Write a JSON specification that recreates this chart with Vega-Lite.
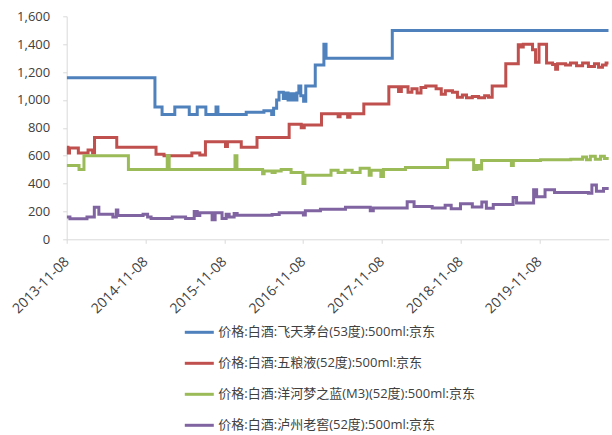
{
  "$schema": "https://vega.github.io/schema/vega-lite/v6.json",
  "width": 542,
  "height": 223,
  "autosize": {"type": "none"},
  "padding": {"left": 66.7, "top": 16.3, "right": 3.3, "bottom": 195.7},
  "background": "white",
  "config": {
    "view": {"stroke": null},
    "font": "Open Sans, Noto Sans CJK SC",
    "axis": {"labelFont": "Open Sans, Noto Sans CJK SC", "labelFontSize": 13, "labelColor": "#404040", "domainColor": "#d9d9d9", "tickColor": "#d9d9d9", "tickSize": 4, "grid": false, "title": null}
  },
  "data": {
    "values": [
      {"d": "2013-11-08", "s": "价格:白酒:飞天茅台(53度):500ml:京东", "v": 1160},
      {"d": "2014-12-22", "s": "价格:白酒:飞天茅台(53度):500ml:京东", "v": 950},
      {"d": "2015-01-24", "s": "价格:白酒:飞天茅台(53度):500ml:京东", "v": 895},
      {"d": "2015-03-24", "s": "价格:白酒:飞天茅台(53度):500ml:京东", "v": 950},
      {"d": "2015-05-30", "s": "价格:白酒:飞天茅台(53度):500ml:京东", "v": 895},
      {"d": "2015-07-06", "s": "价格:白酒:飞天茅台(53度):500ml:京东", "v": 950},
      {"d": "2015-08-15", "s": "价格:白酒:飞天茅台(53度):500ml:京东", "v": 895},
      {"d": "2015-10-01", "s": "价格:白酒:飞天茅台(53度):500ml:京东", "v": 950},
      {"d": "2015-10-10", "s": "价格:白酒:飞天茅台(53度):500ml:京东", "v": 895},
      {"d": "2016-02-18", "s": "价格:白酒:飞天茅台(53度):500ml:京东", "v": 912},
      {"d": "2016-05-10", "s": "价格:白酒:飞天茅台(53度):500ml:京东", "v": 922},
      {"d": "2016-06-15", "s": "价格:白酒:飞天茅台(53度):500ml:京东", "v": 895},
      {"d": "2016-06-24", "s": "价格:白酒:飞天茅台(53度):500ml:京东", "v": 940},
      {"d": "2016-07-08", "s": "价格:白酒:飞天茅台(53度):500ml:京东", "v": 1000},
      {"d": "2016-07-19", "s": "价格:白酒:飞天茅台(53度):500ml:京东", "v": 1055},
      {"d": "2016-08-08", "s": "价格:白酒:飞天茅台(53度):500ml:京东", "v": 1010},
      {"d": "2016-08-19", "s": "价格:白酒:飞天茅台(53度):500ml:京东", "v": 1050},
      {"d": "2016-08-30", "s": "价格:白酒:飞天茅台(53度):500ml:京东", "v": 1000},
      {"d": "2016-09-13", "s": "价格:白酒:飞天茅台(53度):500ml:京东", "v": 1045},
      {"d": "2016-09-27", "s": "价格:白酒:飞天茅台(53度):500ml:京东", "v": 1000},
      {"d": "2016-10-10", "s": "价格:白酒:飞天茅台(53度):500ml:京东", "v": 1050},
      {"d": "2016-10-19", "s": "价格:白酒:飞天茅台(53度):500ml:京东", "v": 1100},
      {"d": "2016-10-28", "s": "价格:白酒:飞天茅台(53度):500ml:京东", "v": 1030},
      {"d": "2016-11-10", "s": "价格:白酒:飞天茅台(53度):500ml:京东", "v": 990},
      {"d": "2016-11-20", "s": "价格:白酒:飞天茅台(53度):500ml:京东", "v": 1100},
      {"d": "2017-01-03", "s": "价格:白酒:飞天茅台(53度):500ml:京东", "v": 1250},
      {"d": "2017-02-12", "s": "价格:白酒:飞天茅台(53度):500ml:京东", "v": 1400},
      {"d": "2017-02-22", "s": "价格:白酒:飞天茅台(53度):500ml:京东", "v": 1299},
      {"d": "2017-12-26", "s": "价格:白酒:飞天茅台(53度):500ml:京东", "v": 1499},
      {"d": "2020-09-24", "s": "价格:白酒:飞天茅台(53度):500ml:京东", "v": 1499},

      {"d": "2013-11-08", "s": "价格:白酒:五粮液(52度):500ml:京东", "v": 660},
      {"d": "2013-11-14", "s": "价格:白酒:五粮液(52度):500ml:京东", "v": 620},
      {"d": "2013-11-21", "s": "价格:白酒:五粮液(52度):500ml:京东", "v": 655},
      {"d": "2014-01-01", "s": "价格:白酒:五粮液(52度):500ml:京东", "v": 620},
      {"d": "2014-02-15", "s": "价格:白酒:五粮液(52度):500ml:京东", "v": 640},
      {"d": "2014-03-08", "s": "价格:白酒:五粮液(52度):500ml:京东", "v": 620},
      {"d": "2014-03-17", "s": "价格:白酒:五粮液(52度):500ml:京东", "v": 730},
      {"d": "2014-06-28", "s": "价格:白酒:五粮液(52度):500ml:京东", "v": 660},
      {"d": "2014-12-27", "s": "价格:白酒:五粮液(52度):500ml:京东", "v": 610},
      {"d": "2015-02-02", "s": "价格:白酒:五粮液(52度):500ml:京东", "v": 600},
      {"d": "2015-06-11", "s": "价格:白酒:五粮液(52度):500ml:京东", "v": 620},
      {"d": "2015-07-18", "s": "价格:白酒:五粮液(52度):500ml:京东", "v": 605},
      {"d": "2015-08-13", "s": "价格:白酒:五粮液(52度):500ml:京东", "v": 700},
      {"d": "2015-11-14", "s": "价格:白酒:五粮液(52度):500ml:京东", "v": 665},
      {"d": "2015-11-23", "s": "价格:白酒:五粮液(52度):500ml:京东", "v": 700},
      {"d": "2016-01-26", "s": "价格:白酒:五粮液(52度):500ml:京东", "v": 660},
      {"d": "2016-04-08", "s": "价格:白酒:五粮液(52度):500ml:京东", "v": 730},
      {"d": "2016-09-04", "s": "价格:白酒:五粮液(52度):500ml:京东", "v": 825},
      {"d": "2016-10-30", "s": "价格:白酒:五粮液(52度):500ml:京东", "v": 800},
      {"d": "2016-11-13", "s": "价格:白酒:五粮液(52度):500ml:京东", "v": 820},
      {"d": "2017-02-01", "s": "价格:白酒:五粮液(52度):500ml:京东", "v": 900},
      {"d": "2017-04-19", "s": "价格:白酒:五粮液(52度):500ml:京东", "v": 880},
      {"d": "2017-04-28", "s": "价格:白酒:五粮液(52度):500ml:京东", "v": 900},
      {"d": "2017-06-02", "s": "价格:白酒:五粮液(52度):500ml:京东", "v": 875},
      {"d": "2017-06-13", "s": "价格:白酒:五粮液(52度):500ml:京东", "v": 900},
      {"d": "2017-08-16", "s": "价格:白酒:五粮液(52度):500ml:京东", "v": 970},
      {"d": "2017-12-10", "s": "价格:白酒:五粮液(52度):500ml:京东", "v": 1095},
      {"d": "2018-01-24", "s": "价格:白酒:五粮液(52度):500ml:京东", "v": 1060},
      {"d": "2018-02-06", "s": "价格:白酒:五粮液(52度):500ml:京东", "v": 1095},
      {"d": "2018-03-09", "s": "价格:白酒:五粮液(52度):500ml:京东", "v": 1055},
      {"d": "2018-03-27", "s": "价格:白酒:五粮液(52度):500ml:京东", "v": 1080},
      {"d": "2018-04-20", "s": "价格:白酒:五粮液(52度):500ml:京东", "v": 1050},
      {"d": "2018-05-08", "s": "价格:白酒:五粮液(52度):500ml:京东", "v": 1090},
      {"d": "2018-05-30", "s": "价格:白酒:五粮液(52度):500ml:京东", "v": 1100},
      {"d": "2018-07-17", "s": "价格:白酒:五粮液(52度):500ml:京东", "v": 1080},
      {"d": "2018-08-10", "s": "价格:白酒:五粮液(52度):500ml:京东", "v": 1040},
      {"d": "2018-08-29", "s": "价格:白酒:五粮液(52度):500ml:京东", "v": 1065},
      {"d": "2018-10-01", "s": "价格:白酒:五粮液(52度):500ml:京东", "v": 1055},
      {"d": "2018-10-24", "s": "价格:白酒:五粮液(52度):500ml:京东", "v": 1020},
      {"d": "2018-11-16", "s": "价格:白酒:五粮液(52度):500ml:京东", "v": 1035},
      {"d": "2018-12-05", "s": "价格:白酒:五粮液(52度):500ml:京东", "v": 1015},
      {"d": "2019-01-01", "s": "价格:白酒:五粮液(52度):500ml:京东", "v": 1025},
      {"d": "2019-01-30", "s": "价格:白酒:五粮液(52度):500ml:京东", "v": 1015},
      {"d": "2019-02-27", "s": "价格:白酒:五粮液(52度):500ml:京东", "v": 1030},
      {"d": "2019-03-17", "s": "价格:白酒:五粮液(52度):500ml:京东", "v": 1020},
      {"d": "2019-04-03", "s": "价格:白酒:五粮液(52度):500ml:京东", "v": 1100},
      {"d": "2019-06-05", "s": "价格:白酒:五粮液(52度):500ml:京东", "v": 1260},
      {"d": "2019-08-02", "s": "价格:白酒:五粮液(52度):500ml:京东", "v": 1395},
      {"d": "2019-08-16", "s": "价格:白酒:五粮液(52度):500ml:京东", "v": 1380},
      {"d": "2019-08-25", "s": "价格:白酒:五粮液(52度):500ml:京东", "v": 1400},
      {"d": "2019-10-07", "s": "价格:白酒:五粮液(52度):500ml:京东", "v": 1360},
      {"d": "2019-10-21", "s": "价格:白酒:五粮液(52度):500ml:京东", "v": 1270},
      {"d": "2019-11-06", "s": "价格:白酒:五粮液(52度):500ml:京东", "v": 1400},
      {"d": "2019-12-11", "s": "价格:白酒:五粮液(52度):500ml:京东", "v": 1265},
      {"d": "2020-01-08", "s": "价格:白酒:五粮液(52度):500ml:京东", "v": 1255},
      {"d": "2020-01-22", "s": "价格:白酒:五粮液(52度):500ml:京东", "v": 1220},
      {"d": "2020-01-31", "s": "价格:白酒:五粮液(52度):500ml:京东", "v": 1260},
      {"d": "2020-03-08", "s": "价格:白酒:五粮液(52度):500ml:京东", "v": 1250},
      {"d": "2020-03-31", "s": "价格:白酒:五粮液(52度):500ml:京东", "v": 1265},
      {"d": "2020-04-28", "s": "价格:白酒:五粮液(52度):500ml:京东", "v": 1245},
      {"d": "2020-05-26", "s": "价格:白酒:五粮液(52度):500ml:京东", "v": 1265},
      {"d": "2020-06-22", "s": "价格:白酒:五粮液(52度):500ml:京东", "v": 1240},
      {"d": "2020-07-20", "s": "价格:白酒:五粮液(52度):500ml:京东", "v": 1260},
      {"d": "2020-08-08", "s": "价格:白酒:五粮液(52度):500ml:京东", "v": 1235},
      {"d": "2020-08-26", "s": "价格:白酒:五粮液(52度):500ml:京东", "v": 1250},
      {"d": "2020-09-12", "s": "价格:白酒:五粮液(52度):500ml:京东", "v": 1265},
      {"d": "2020-09-24", "s": "价格:白酒:五粮液(52度):500ml:京东", "v": 1265},

      {"d": "2013-11-08", "s": "价格:白酒:洋河梦之蓝(M3)(52度):500ml:京东", "v": 530},
      {"d": "2014-01-04", "s": "价格:白酒:洋河梦之蓝(M3)(52度):500ml:京东", "v": 500},
      {"d": "2014-01-27", "s": "价格:白酒:洋河梦之蓝(M3)(52度):500ml:京东", "v": 600},
      {"d": "2014-08-21", "s": "价格:白酒:洋河梦之蓝(M3)(52度):500ml:京东", "v": 500},
      {"d": "2015-02-17", "s": "价格:白酒:洋河梦之蓝(M3)(52度):500ml:京东", "v": 600},
      {"d": "2015-02-26", "s": "价格:白酒:洋河梦之蓝(M3)(52度):500ml:京东", "v": 500},
      {"d": "2015-12-28", "s": "价格:白酒:洋河梦之蓝(M3)(52度):500ml:京东", "v": 600},
      {"d": "2016-01-06", "s": "价格:白酒:洋河梦之蓝(M3)(52度):500ml:京东", "v": 500},
      {"d": "2016-05-04", "s": "价格:白酒:洋河梦之蓝(M3)(52度):500ml:京东", "v": 470},
      {"d": "2016-05-11", "s": "价格:白酒:洋河梦之蓝(M3)(52度):500ml:京东", "v": 490},
      {"d": "2016-06-17", "s": "价格:白酒:洋河梦之蓝(M3)(52度):500ml:京东", "v": 480},
      {"d": "2016-07-01", "s": "价格:白酒:洋河梦之蓝(M3)(52度):500ml:京东", "v": 490},
      {"d": "2016-07-29", "s": "价格:白酒:洋河梦之蓝(M3)(52度):500ml:京东", "v": 500},
      {"d": "2016-09-13", "s": "价格:白酒:洋河梦之蓝(M3)(52度):500ml:京东", "v": 480},
      {"d": "2016-11-07", "s": "价格:白酒:洋河梦之蓝(M3)(52度):500ml:京东", "v": 400},
      {"d": "2016-11-16", "s": "价格:白酒:洋河梦之蓝(M3)(52度):500ml:京东", "v": 460},
      {"d": "2017-03-17", "s": "价格:白酒:洋河梦之蓝(M3)(52度):500ml:京东", "v": 495},
      {"d": "2017-04-19", "s": "价格:白酒:洋河梦之蓝(M3)(52度):500ml:京东", "v": 480},
      {"d": "2017-05-21", "s": "价格:白酒:洋河梦之蓝(M3)(52度):500ml:京东", "v": 495},
      {"d": "2017-06-23", "s": "价格:白酒:洋河梦之蓝(M3)(52度):500ml:京东", "v": 480},
      {"d": "2017-07-30", "s": "价格:白酒:洋河梦之蓝(M3)(52度):500ml:京东", "v": 510},
      {"d": "2017-09-10", "s": "价格:白酒:洋河梦之蓝(M3)(52度):500ml:京东", "v": 460},
      {"d": "2017-09-19", "s": "价格:白酒:洋河梦之蓝(M3)(52度):500ml:京东", "v": 495},
      {"d": "2017-11-03", "s": "价格:白酒:洋河梦之蓝(M3)(52度):500ml:京东", "v": 450},
      {"d": "2017-11-15", "s": "价格:白酒:洋河梦之蓝(M3)(52度):500ml:京东", "v": 500},
      {"d": "2018-02-25", "s": "价格:白酒:洋河梦之蓝(M3)(52度):500ml:京东", "v": 515},
      {"d": "2018-09-08", "s": "价格:白酒:洋河梦之蓝(M3)(52度):500ml:京东", "v": 570},
      {"d": "2019-01-07", "s": "价格:白酒:洋河梦之蓝(M3)(52度):500ml:京东", "v": 500},
      {"d": "2019-01-21", "s": "价格:白酒:洋河梦之蓝(M3)(52度):500ml:京东", "v": 530},
      {"d": "2019-01-30", "s": "价格:白酒:洋河梦之蓝(M3)(52度):500ml:京东", "v": 505},
      {"d": "2019-02-13", "s": "价格:白酒:洋河梦之蓝(M3)(52度):500ml:京东", "v": 565},
      {"d": "2019-07-01", "s": "价格:白酒:洋河梦之蓝(M3)(52度):500ml:京东", "v": 530},
      {"d": "2019-07-10", "s": "价格:白酒:洋河梦之蓝(M3)(52度):500ml:京东", "v": 565},
      {"d": "2019-11-13", "s": "价格:白酒:洋河梦之蓝(M3)(52度):500ml:京东", "v": 570},
      {"d": "2020-04-01", "s": "价格:白酒:洋河梦之蓝(M3)(52度):500ml:京东", "v": 575},
      {"d": "2020-05-26", "s": "价格:白酒:洋河梦之蓝(M3)(52度):500ml:京东", "v": 590},
      {"d": "2020-06-13", "s": "价格:白酒:洋河梦之蓝(M3)(52度):500ml:京东", "v": 570},
      {"d": "2020-07-01", "s": "价格:白酒:洋河梦之蓝(M3)(52度):500ml:京东", "v": 595},
      {"d": "2020-07-24", "s": "价格:白酒:洋河梦之蓝(M3)(52度):500ml:京东", "v": 575},
      {"d": "2020-08-17", "s": "价格:白酒:洋河梦之蓝(M3)(52度):500ml:京东", "v": 595},
      {"d": "2020-09-04", "s": "价格:白酒:洋河梦之蓝(M3)(52度):500ml:京东", "v": 580},
      {"d": "2020-09-24", "s": "价格:白酒:洋河梦之蓝(M3)(52度):500ml:京东", "v": 570},

      {"d": "2013-11-08", "s": "价格:白酒:泸州老窖(52度):500ml:京东", "v": 160},
      {"d": "2013-11-23", "s": "价格:白酒:泸州老窖(52度):500ml:京东", "v": 148},
      {"d": "2014-02-10", "s": "价格:白酒:泸州老窖(52度):500ml:京东", "v": 160},
      {"d": "2014-03-16", "s": "价格:白酒:泸州老窖(52度):500ml:京东", "v": 230},
      {"d": "2014-04-06", "s": "价格:白酒:泸州老窖(52度):500ml:京东", "v": 180},
      {"d": "2014-06-10", "s": "价格:白酒:泸州老窖(52度):500ml:京东", "v": 160},
      {"d": "2014-06-26", "s": "价格:白酒:泸州老窖(52度):500ml:京东", "v": 210},
      {"d": "2014-07-03", "s": "价格:白酒:泸州老窖(52度):500ml:京东", "v": 170},
      {"d": "2014-10-28", "s": "价格:白酒:泸州老窖(52度):500ml:京东", "v": 180},
      {"d": "2014-11-18", "s": "价格:白酒:泸州老窖(52度):500ml:京东", "v": 160},
      {"d": "2014-12-04", "s": "价格:白酒:泸州老窖(52度):500ml:京东", "v": 150},
      {"d": "2015-03-12", "s": "价格:白酒:泸州老窖(52度):500ml:京东", "v": 160},
      {"d": "2015-05-13", "s": "价格:白酒:泸州老窖(52度):500ml:京东", "v": 150},
      {"d": "2015-06-22", "s": "价格:白酒:泸州老窖(52度):500ml:京东", "v": 200},
      {"d": "2015-07-06", "s": "价格:白酒:泸州老窖(52度):500ml:京东", "v": 170},
      {"d": "2015-07-18", "s": "价格:白酒:泸州老窖(52度):500ml:京东", "v": 190},
      {"d": "2015-09-13", "s": "价格:白酒:泸州老窖(52度):500ml:京东", "v": 140},
      {"d": "2015-09-27", "s": "价格:白酒:泸州老窖(52度):500ml:京东", "v": 190},
      {"d": "2015-10-29", "s": "价格:白酒:泸州老窖(52度):500ml:京东", "v": 150},
      {"d": "2015-11-17", "s": "价格:白酒:泸州老窖(52度):500ml:京东", "v": 180},
      {"d": "2015-12-01", "s": "价格:白酒:泸州老窖(52度):500ml:京东", "v": 160},
      {"d": "2015-12-24", "s": "价格:白酒:泸州老窖(52度):500ml:京东", "v": 185},
      {"d": "2016-01-07", "s": "价格:白酒:泸州老窖(52度):500ml:京东", "v": 172},
      {"d": "2016-06-17", "s": "价格:白酒:泸州老窖(52度):500ml:京东", "v": 178},
      {"d": "2016-07-20", "s": "价格:白酒:泸州老窖(52度):500ml:京东", "v": 190},
      {"d": "2016-11-09", "s": "价格:白酒:泸州老窖(52度):500ml:京东", "v": 175},
      {"d": "2016-11-18", "s": "价格:白酒:泸州老窖(52度):500ml:京东", "v": 205},
      {"d": "2017-01-27", "s": "价格:白酒:泸州老窖(52度):500ml:京东", "v": 215},
      {"d": "2017-05-23", "s": "价格:白酒:泸州老窖(52度):500ml:京东", "v": 230},
      {"d": "2017-09-15", "s": "价格:白酒:泸州老窖(52度):500ml:京东", "v": 205},
      {"d": "2017-09-29", "s": "价格:白酒:泸州老窖(52度):500ml:京东", "v": 225},
      {"d": "2018-03-05", "s": "价格:白酒:泸州老窖(52度):500ml:京东", "v": 270},
      {"d": "2018-04-06", "s": "价格:白酒:泸州老窖(52度):500ml:京东", "v": 235},
      {"d": "2018-06-29", "s": "价格:白酒:泸州老窖(52度):500ml:京东", "v": 225},
      {"d": "2018-08-28", "s": "价格:白酒:泸州老窖(52度):500ml:京东", "v": 245},
      {"d": "2018-09-25", "s": "价格:白酒:泸州老窖(52度):500ml:京东", "v": 220},
      {"d": "2018-11-07", "s": "价格:白酒:泸州老窖(52度):500ml:京东", "v": 255},
      {"d": "2019-01-01", "s": "价格:白酒:泸州老窖(52度):500ml:京东", "v": 232},
      {"d": "2019-02-14", "s": "价格:白酒:泸州老窖(52度):500ml:京东", "v": 268},
      {"d": "2019-03-07", "s": "价格:白酒:泸州老窖(52度):500ml:京东", "v": 222},
      {"d": "2019-04-08", "s": "价格:白酒:泸州老窖(52度):500ml:京东", "v": 250},
      {"d": "2019-07-09", "s": "价格:白酒:泸州老窖(52度):500ml:京东", "v": 300},
      {"d": "2019-07-25", "s": "价格:白酒:泸州老窖(52度):500ml:京东", "v": 260},
      {"d": "2019-10-12", "s": "价格:白酒:泸州老窖(52度):500ml:京东", "v": 355},
      {"d": "2019-10-26", "s": "价格:白酒:泸州老窖(52度):500ml:京东", "v": 305},
      {"d": "2019-12-04", "s": "价格:白酒:泸州老窖(52度):500ml:京东", "v": 355},
      {"d": "2020-01-17", "s": "价格:白酒:泸州老窖(52度):500ml:京东", "v": 335},
      {"d": "2020-06-22", "s": "价格:白酒:泸州老窖(52度):500ml:京东", "v": 330},
      {"d": "2020-07-08", "s": "价格:白酒:泸州老窖(52度):500ml:京东", "v": 390},
      {"d": "2020-07-29", "s": "价格:白酒:泸州老窖(52度):500ml:京东", "v": 345},
      {"d": "2020-08-31", "s": "价格:白酒:泸州老窖(52度):500ml:京东", "v": 365},
      {"d": "2020-09-24", "s": "价格:白酒:泸州老窖(52度):500ml:京东", "v": 355}
    ]
  },
  "mark": {"type": "line", "strokeWidth": 3, "interpolate": "step-after", "clip": true},
  "encoding": {
    "x": {
      "field": "d",
      "type": "temporal",
      "scale": {"type": "utc", "domain": [{"year": 2013, "month": 11, "date": 8, "utc": true}, {"year": 2020, "month": 9, "date": 24, "utc": true}]},
      "axis": {
        "values": [
          {"year": 2013, "month": 11, "date": 8, "utc": true},
          {"year": 2014, "month": 11, "date": 8, "utc": true},
          {"year": 2015, "month": 11, "date": 8, "utc": true},
          {"year": 2016, "month": 11, "date": 8, "utc": true},
          {"year": 2017, "month": 11, "date": 8, "utc": true},
          {"year": 2018, "month": 11, "date": 8, "utc": true},
          {"year": 2019, "month": 11, "date": 8, "utc": true}
        ],
        "labelExpr": "utcFormat(datum.value, '%Y-%m-%d')",
        "labelAngle": -45,
        "labelAlign": "right",
        "labelBaseline": "middle",
        "labelFontSize": 14,
        "labelPadding": 16,
        "labelOverlap": false,
        "labelFlush": false
      }
    },
    "y": {
      "field": "v",
      "type": "quantitative",
      "scale": {"domain": [0, 1600], "nice": false},
      "axis": {"values": [0, 200, 400, 600, 800, 1000, 1200, 1400, 1600], "format": ",d", "labelPadding": 13}
    },
    "color": {
      "field": "s",
      "type": "nominal",
      "scale": {
        "domain": ["价格:白酒:飞天茅台(53度):500ml:京东", "价格:白酒:五粮液(52度):500ml:京东", "价格:白酒:洋河梦之蓝(M3)(52度):500ml:京东", "价格:白酒:泸州老窖(52度):500ml:京东"],
        "range": ["#4F81BD", "#C0504D", "#9BBB59", "#8064A2"]
      },
      "legend": {
        "title": null,
        "orient": "none",
        "legendX": 116.6,
        "legendY": 300,
        "direction": "vertical",
        "padding": 0,
        "symbolType": "stroke",
        "symbolSize": 841,
        "symbolStrokeWidth": 3,
        "labelFont": "Open Sans, Noto Sans CJK SC",
        "labelFontSize": 13,
        "labelColor": "#404040",
        "labelOffset": 3,
        "rowPadding": 8,
        "labelLimit": 400
      }
    }
  }
}
